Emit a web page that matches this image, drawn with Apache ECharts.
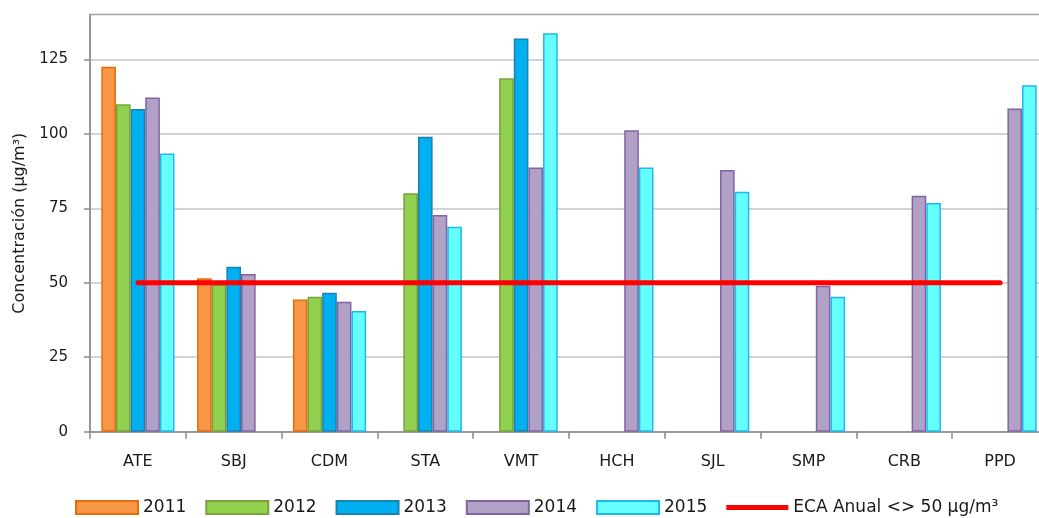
<!DOCTYPE html>
<html>
<head>
<meta charset="utf-8">
<script src="https://cdn.jsdelivr.net/npm/echarts@6/dist/echarts.min.js"></script>
<style>
  html, body { margin: 0; padding: 0; background: #ffffff; }
  #chart { width: 1039px; height: 518px; }
</style>
</head>
<body>
<div id="chart"></div>
<script>
// ---- data ----
const categories = ['ATE', 'SBJ', 'CDM', 'STA', 'VMT', 'HCH', 'SJL', 'SMP', 'CRB', 'PPD'];
const s2011 = [122.5, 51.5, 44.4, null, null, null, null, null, null, null];
const s2012 = [109.9, 49.5, 45.3, 80.0, 118.6, null, null, null, null, null];
const s2013 = [108.3, 55.4, 46.6, 99.0, 132.0, null, null, null, null, null];
const s2014 = [112.2, 52.9, 43.6, 72.7, 88.7, 101.2, 87.8, 49.0, 79.2, 108.5];
const s2015 = [93.4, null, 40.5, 68.8, 133.7, 88.7, 80.5, 45.3, 76.8, 116.3];
const ecaValue = 50;
const ecaLine = categories.map(() => ecaValue);
const yTicks = [0, 25, 50, 75, 100, 125];
const yMax = 140;
const seriesNames = ['2011', '2012', '2013', '2014', '2015'];
const ecaName = 'ECA Anual <> 50 µg/m³';
const yAxisName = 'Concentración (µg/m³)';

// ---- styles ----
const fills = ['#F79646', '#92D050', '#00B0F0', '#B2A1C7', '#66FFFF'];
const borders = ['#E46C0A', '#77A33A', '#1A82AE', '#8064A2', '#1FB8F0'];
const FONT = '"DejaVu Sans", Verdana, sans-serif';

const barData = [s2011, s2012, s2013, s2014, s2015];
const series = barData.map((d, i) => ({
  name: seriesNames[i],
  type: 'bar',
  data: d,
  barGap: '0%',
  barCategoryGap: '23.6%',
  itemStyle: { color: fills[i], borderColor: borders[i], borderWidth: 1.5 },
  emphasis: { disabled: true }
}));
series.push({
  name: ecaName,
  type: 'line',
  data: ecaLine,
  symbol: 'none',
  z: 10,
  lineStyle: { color: '#FF0000', width: 5, cap: 'round' },
  itemStyle: { color: '#FF0000' },
  emphasis: { disabled: true }
});

const chart = echarts.init(document.getElementById('chart'), null, { renderer: 'canvas' });
chart.setOption({
  animation: false,
  backgroundColor: '#ffffff',
  grid: {
    left: 90, top: 14.6, width: 958, height: 417.1,
    outerBoundsMode: 'none',
    containLabel: false,
    show: true, borderColor: '#A6A6A6', borderWidth: 1.5, backgroundColor: 'transparent'
  },
  legend: {
    left: 75, top: 499, padding: 0,
    itemWidth: 62, itemHeight: 13, itemGap: 19,
    textStyle: { fontFamily: FONT, fontSize: 17, color: '#1a1a1a' },
    data: seriesNames.map(n => ({ name: n, icon: 'rect' })).concat([
      { name: ecaName, icon: 'path://M0,0 L62,0 L62,5 L0,5 Z', itemStyle: { color: '#FF0000', borderWidth: 0 } }
    ])
  },
  xAxis: {
    type: 'category',
    data: categories,
    axisLine: { lineStyle: { color: '#8C8C8C', width: 1.5 } },
    axisTick: { show: true, length: 7, lineStyle: { color: '#8C8C8C', width: 1.5 } },
    axisLabel: { fontFamily: FONT, fontSize: 16, color: '#1a1a1a', margin: 22 },
    splitLine: { show: false }
  },
  yAxis: {
    type: 'value',
    min: 0, max: yMax, interval: 25,
    name: yAxisName,
    nameLocation: 'middle',
    nameGap: 62,
    nameTextStyle: { fontFamily: FONT, fontSize: 16, color: '#1a1a1a' },
    axisLine: { show: true, lineStyle: { color: '#8C8C8C', width: 1.5 } },
    axisTick: { show: true, length: 6, customValues: yTicks, lineStyle: { color: '#8C8C8C', width: 1.5 } },
    axisLabel: { fontFamily: FONT, fontSize: 15, color: '#1a1a1a', margin: 22, customValues: yTicks },
    splitLine: { show: true, lineStyle: { color: '#C4C4C4', width: 1.5 } }
  },
  series: series
});
</script>
</body>
</html>
